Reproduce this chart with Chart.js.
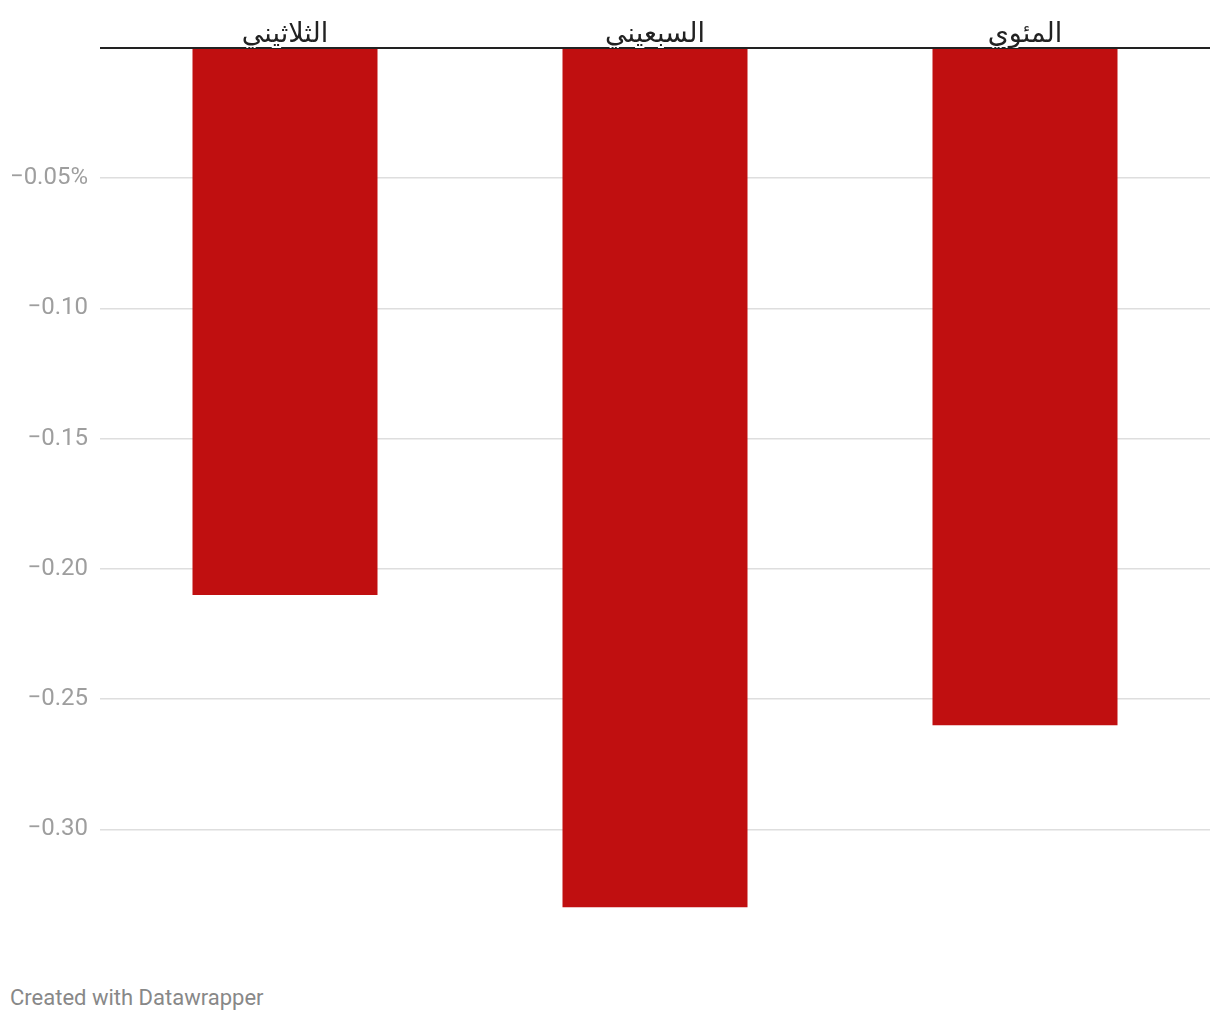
<!DOCTYPE html>
<html>
<head>
<meta charset="utf-8">
<script src="https://cdn.jsdelivr.net/npm/chart.js@4/dist/chart.umd.min.js"></script>
<style>
  html, body { margin: 0; padding: 0; background: #fff; }
  #wrap { position: absolute; left: 0; top: 0; width: 1220px; height: 934px; }
  #footer {
    position: absolute; left: 10px; top: 985px;
    font: 22px Roboto, sans-serif; color: #888;
  }
</style>
</head>
<body>
<div id="wrap"><canvas id="chart"></canvas></div>
<div id="footer">Created with Datawrapper</div>
<script>
// Data
const categories = ['الثلاثيني', 'السبعيني', 'المئوي'];
const values = [-0.21, -0.33, -0.26];
const yMin = -0.33;
const yStep = 0.05;

const ctx = document.getElementById('chart').getContext('2d');

new Chart(ctx, {
  type: 'bar',
  data: {
    labels: categories,
    datasets: [{
      data: values,
      backgroundColor: '#c00f10',
      borderWidth: 0,
      barPercentage: 0.5,
      categoryPercentage: 1
    }]
  },
  options: {
    responsive: true,
    maintainAspectRatio: false,
    animation: false,
    layout: { padding: { top: 0, right: 10, bottom: 14, left: 0 } },
    plugins: {
      legend: { display: false },
      tooltip: { enabled: false }
    },
    scales: {
      x: {
        position: 'top',
        grid: { display: false, drawTicks: false },
        border: { display: false },
        ticks: {
          color: '#222',
          padding: -3,
          maxRotation: 0,
          textStrokeColor: '#fff',
          textStrokeWidth: 4,
          font: { family: 'Roboto, "DejaVu Sans", sans-serif', size: 27 }
        },
        afterFit: function(axis) { axis.height = 48; }
      },
      y: {
        min: yMin,
        max: 0,
        grid: {
          drawTicks: false,
          color: (c) => (c.tick && c.tick.value === 0 ? '#222' : '#dedede'),
          lineWidth: (c) => (c.tick && c.tick.value === 0 ? 2 : 1.5)
        },
        border: { display: false },
        afterBuildTicks: function(axis) {
          axis.ticks = axis.ticks.filter(t => {
            const r = t.value / yStep;
            return Math.abs(r - Math.round(r)) < 1e-6;
          });
        },
        ticks: {
          stepSize: yStep,
          color: '#9e9e9e',
          padding: 12,
          font: { family: 'Roboto, sans-serif', size: 24 },
          callback: function(value) {
            if (Math.abs(value) < 1e-9) return '';
            const s = '\u2212' + Math.abs(value).toFixed(2);
            return Math.abs(value + 0.05) < 1e-9 ? s + '%' : s;
          }
        },
        afterFit: function(axis) { axis.width = 100; }
      }
    }
  }
});
</script>
</body>
</html>
